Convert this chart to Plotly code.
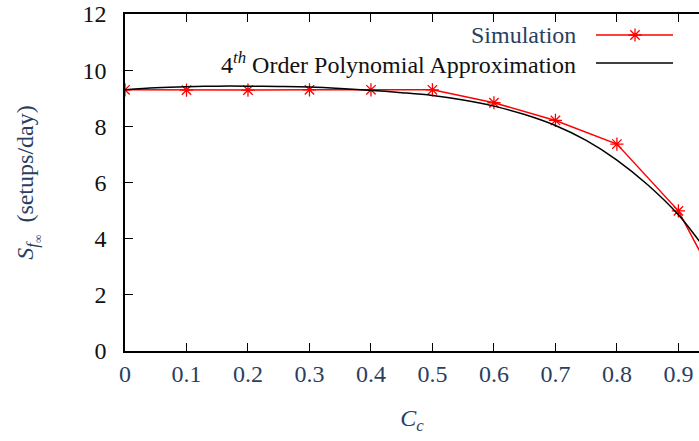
import plotly.graph_objects as go

# Simulation data
sim_x = [0.0, 0.1, 0.2, 0.3, 0.4, 0.5, 0.6, 0.7, 0.8, 0.9, 1.0]
sim_y = [9.30, 9.29, 9.29, 9.30, 9.30, 9.30, 8.84, 8.21, 7.37, 4.99, 0.85]

# 4th order polynomial approximation
poly_x = [0.0, 0.05, 0.1, 0.15, 0.2, 0.25, 0.3, 0.35, 0.4, 0.45, 0.5, 0.55, 0.6,
          0.65, 0.7, 0.75, 0.8, 0.85, 0.9, 0.933, 0.95, 1.0]
poly_y = [9.30, 9.37, 9.41, 9.43, 9.43, 9.42, 9.40, 9.35, 9.28, 9.20, 9.10, 8.94, 8.72,
          8.42, 8.03, 7.50, 6.80, 5.92, 4.85, 3.94, 3.45, 1.90]

x_ticks = [0, 0.1, 0.2, 0.3, 0.4, 0.5, 0.6, 0.7, 0.8, 0.9]
x_labels = ["0", "0.1", "0.2", "0.3", "0.4", "0.5", "0.6", "0.7", "0.8", "0.9"]
y_ticks = [0, 2, 4, 6, 8, 10, 12]

FONT = "Liberation Serif"
FS = 24
RED = "#ff0000"
STAR = dict(symbol="asterisk-open", size=11, color=RED, line=dict(color=RED, width=1.3))

fig = go.Figure()
fig.add_trace(go.Scatter(x=sim_x, y=sim_y, mode="lines+markers",
                         line=dict(color=RED, width=1.5), marker=STAR,
                         showlegend=False))
fig.add_trace(go.Scatter(x=poly_x, y=poly_y, mode="lines", line_shape="spline",
                         line=dict(color="black", width=1.5), showlegend=False))

# legend samples on an overlay axis in fractional coordinates
leg_x0, leg_x1, leg_xm = 0.8206, 0.9547, 0.8885
leg_y_sim, leg_y_poly = 0.9377, 0.8546
fig.add_trace(go.Scatter(x=[leg_x0, leg_xm, leg_x1], y=[leg_y_sim] * 3,
                         mode="lines", line=dict(color=RED, width=1.5),
                         xaxis="x2", yaxis="y2", showlegend=False, hoverinfo="skip"))
fig.add_trace(go.Scatter(x=[leg_xm], y=[leg_y_sim], mode="markers", marker=STAR,
                         xaxis="x2", yaxis="y2", showlegend=False, hoverinfo="skip"))
fig.add_trace(go.Scatter(x=[leg_x0, leg_x1], y=[leg_y_poly] * 2,
                         mode="lines", line=dict(color="black", width=1.5),
                         xaxis="x2", yaxis="y2", showlegend=False, hoverinfo="skip"))

fig.add_annotation(xref="paper", yref="paper", x=0.789, y=leg_y_sim, text="Simulation",
                   showarrow=False, xanchor="right", yanchor="middle",
                   font=dict(family=FONT, size=FS))
fig.add_annotation(xref="paper", yref="paper", x=0.789, y=leg_y_poly,
                   text="4<sup><i>th</i></sup> Order Polynomial Approximation",
                   showarrow=False, xanchor="right", yanchor="middle",
                   font=dict(family=FONT, size=FS, color="#111111"))

fig.update_layout(
    width=699, height=441,
    margin=dict(l=125, r=0, t=14, b=90),
    paper_bgcolor="white", plot_bgcolor="white",
    xaxis=dict(range=[0, 0.9335], tickvals=x_ticks, ticktext=x_labels,
               ticks="inside", ticklen=8, tickwidth=1, tickcolor="black",
               showline=True, linecolor="black", linewidth=1.5, mirror="ticks",
               showgrid=False, zeroline=False,
               tickfont=dict(family=FONT, size=FS),
               title=dict(text="<i>C</i><sub><i>c</i></sub>", standoff=24,
                          font=dict(family=FONT, size=FS))),
    yaxis=dict(range=[0, 12], tickvals=y_ticks,
               ticks="inside", ticklen=8, tickwidth=1, tickcolor="black",
               showline=True, linecolor="black", linewidth=1.5, mirror=False,
               showgrid=False, zeroline=False, ticklabelstandoff=12,
               tickfont=dict(family=FONT, size=FS, color="#111111"),
               title=dict(text="<i>S</i><sub><i>f</i><sub>∞</sub></sub>  (setups/day)",
                          standoff=42, font=dict(family=FONT, size=FS))),
    xaxis2=dict(overlaying="x", range=[0, 1], visible=False),
    yaxis2=dict(overlaying="y", range=[0, 1], visible=False),
)

fig.write_html("out.html")
